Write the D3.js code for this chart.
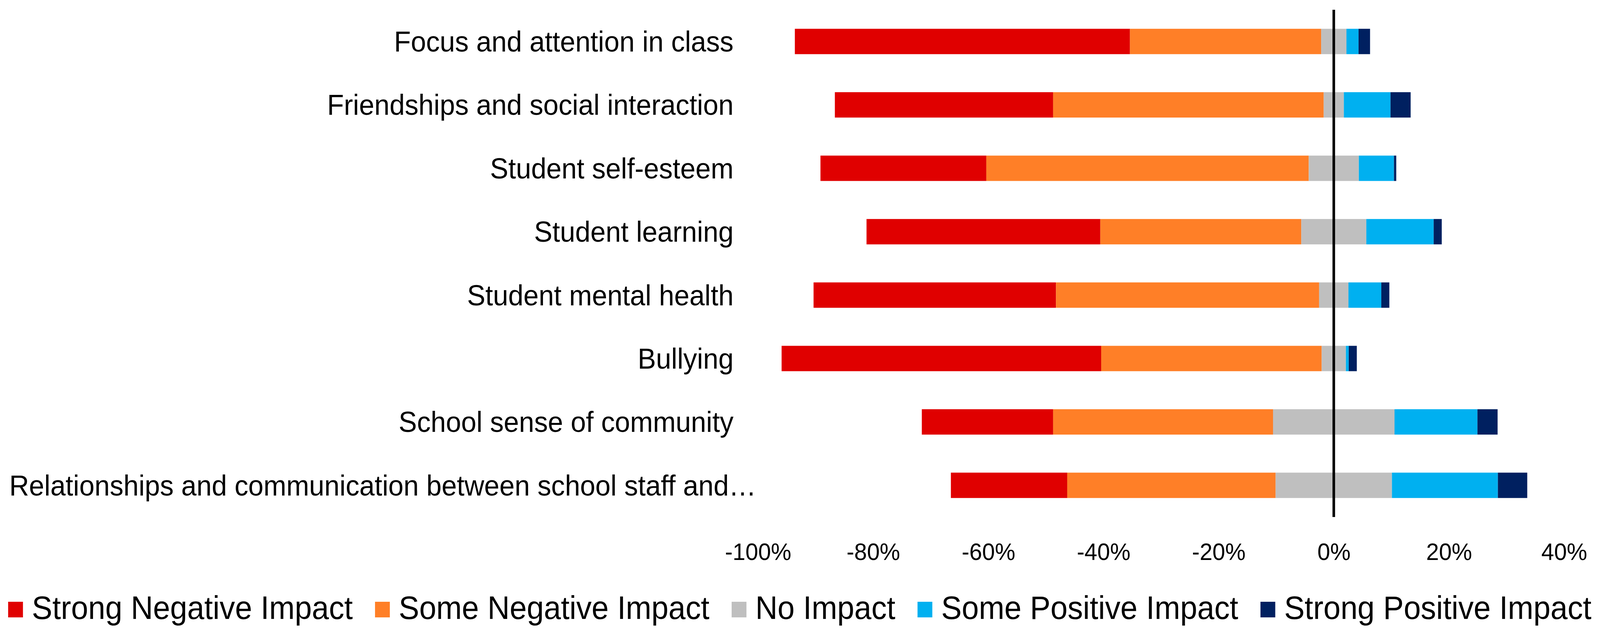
<!DOCTYPE html>
<html>
<head>
<meta charset="utf-8">
<script src="https://cdn.jsdelivr.net/npm/d3@7"></script>
<style>
  html, body { margin: 0; padding: 0; width: 100%; height: 100%; overflow: hidden; background: #fff; }
  svg { display: block; width: 100vw; height: 100vh; font-family: "Liberation Sans", Arial, sans-serif; }
</style>
</head>
<body>
<svg id="chart"></svg>
<script>
// Globals. The drawing is laid out in a 4323 x 1621 box and stretched
// to the window through the viewBox.
var WIDTH = 4323;
var HEIGHT = 1621;
var PLOT_LEFT = 2048;
var PLOT_RIGHT = 4226;
var PLOT_TOP = 25;
var PLOT_BOTTOM = 1324;
var LABEL_GAP = 66;

// Data (percent of respondents).
var categories = [
  'Focus and attention in class',
  'Friendships and social interaction',
  'Student self-esteem',
  'Student learning',
  'Student mental health',
  'Bullying',
  'School sense of community',
  'Relationships and communication between school staff and\u2026'
];
var seriesNames = ['Strong Negative Impact', 'Some Negative Impact', 'No Impact',
                   'Some Positive Impact', 'Strong Positive Impact'];
var seriesColors = ['#E00000', '#FF7F27', '#BFBFBF', '#00B0F0', '#002060'];

var strongNeg = [58.2, 37.9, 28.8, 40.6, 42.1, 55.5, 22.8, 20.2];
var someNeg   = [33.2, 47.0, 56.0, 34.9, 45.7, 38.3, 38.2, 36.2];
var noImpact  = [4.4, 3.5, 8.7, 11.3, 5.1, 4.2, 21.1, 20.2];
var somePos   = [2.1, 8.1, 6.1, 11.7, 5.7, 0.5, 14.4, 18.4];
var strongPos = [2.0, 3.5, 0.4, 1.4, 1.4, 1.4, 3.5, 5.1];

var tickValues = [-100, -80, -60, -40, -20, 0, 20, 40];

/**
 * buildSegments
 * =============
 * Stacks the five series for each category so that "No Impact"
 * sits centred on zero.
 */
var buildSegments = function() {
  var series = [strongNeg, someNeg, noImpact, somePos, strongPos];
  var result = [];
  categories.forEach(function(cat, i) {
    var x = -(strongNeg[i] + someNeg[i] + noImpact[i] / 2);
    series.forEach(function(s, k) {
      result.push({cat: cat, k: k, x0: x, x1: x + s[i]});
      x += s[i];
    });
  });
  return result;
};

var svg = d3.select('#chart')
  .attr('viewBox', '0 0 ' + WIDTH + ' ' + HEIGHT)
  .attr('preserveAspectRatio', 'none');

var x = d3.scaleLinear()
  .domain([-100, 40])
  .range([PLOT_LEFT, PLOT_RIGHT]);

var y = d3.scaleBand()
  .domain(categories)
  .range([PLOT_TOP, PLOT_BOTTOM])
  .paddingInner(0.6)
  .paddingOuter(0.3);

// Bars.
svg.append('g')
  .selectAll('rect')
  .data(buildSegments())
  .enter()
  .append('rect')
  .attr('x', function(d) { return x(d.x0); })
  .attr('width', function(d) { return x(d.x1) - x(d.x0); })
  .attr('y', function(d) { return y(d.cat); })
  .attr('height', y.bandwidth())
  .attr('fill', function(d) { return seriesColors[d.k]; });

// Zero line.
svg.append('line')
  .attr('x1', x(0)).attr('x2', x(0))
  .attr('y1', PLOT_TOP).attr('y2', PLOT_BOTTOM)
  .attr('stroke', '#000')
  .attr('stroke-width', 7);

// Category labels.
var labels = svg.append('g')
  .selectAll('text')
  .data(categories)
  .enter()
  .append('text')
  .attr('x', PLOT_LEFT - LABEL_GAP)
  .attr('y', function(d) { return y(d) + y.bandwidth() / 2; })
  .attr('dy', '0.35em')
  .attr('text-anchor', 'end')
  .attr('font-size', 74)
  .attr('fill', '#000')
  .text(function(d) { return d; });

// Labels too long for the space run from the left edge instead.
labels.each(function() {
  var el = d3.select(this);
  if (PLOT_LEFT - LABEL_GAP - this.getComputedTextLength() < 25) {
    el.attr('x', 25).attr('text-anchor', 'start');
  }
});

// X axis.
var axis = svg.append('g')
  .attr('transform', 'translate(0,' + PLOT_BOTTOM + ')')
  .call(d3.axisBottom(x)
    .tickValues(tickValues)
    .tickSize(0)
    .tickFormat(function(d) { return d + '%'; }));
axis.select('.domain').remove();
axis.selectAll('text')
  .attr('y', 110)
  .attr('dy', 0)
  .attr('font-size', 62)
  .attr('font-family', '"Liberation Sans", Arial, sans-serif')
  .attr('fill', '#000');

// Legend.
var legend = svg.append('g');
var lx = 22;
seriesNames.forEach(function(name, k) {
  legend.append('rect')
    .attr('x', lx).attr('y', 1541)
    .attr('width', 40).attr('height', 40)
    .attr('fill', seriesColors[k]);
  var t = legend.append('text')
    .attr('x', lx + 64)
    .attr('y', 1585)
    .attr('font-size', 83)
    .attr('fill', '#000')
    .text(name);
  lx += 64 + t.node().getComputedTextLength() + 60;
});
</script>
</body>
</html>
